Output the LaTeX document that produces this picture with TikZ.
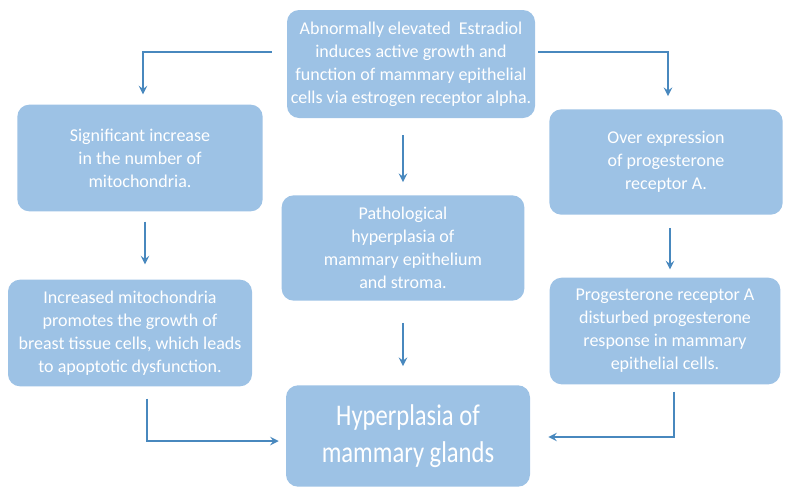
\documentclass[tikz,border=0pt]{standalone}
\usepackage{fontspec}
\setmainfont{Carlito}
\newfontfamily\narrowfont[FakeStretch=0.82]{Carlito}
\definecolor{boxblue}{RGB}{157,194,229}
\definecolor{arrowblue}{RGB}{72,136,190}
\tikzset{
  box/.style     = {shape=rectangle, rounded corners=9pt, fill=boxblue,
                    text=white, align=center, inner sep=0pt,
                    font=\fontsize{13.5}{17.2}\selectfont},
  mainbox/.style = {box, font=\narrowfont\fontsize{22.5}{28}\selectfont},
  flow/.style    = {draw=arrowblue, line width=1.8pt, -stealth}
}
\begin{document}
\begin{tikzpicture}[x=0.75pt, y=-0.75pt]
\useasboundingbox (0,0) rectangle (785,486);
% boxes
\node[box, minimum width=186pt, minimum height=81pt] (estradiol) at (411,64)
  {Abnormally elevated~ Estradiol\\ induces active growth and\\ function of mammary epithelial\\ cells via estrogen receptor alpha.};
\node[box, minimum width=184pt, minimum height=80pt] (mito) at (140,158)
  {Significant increase\\ in the number of\\ mitochondria.};
\node[box, minimum width=175pt, minimum height=79pt] (overexp) at (666,162)
  {Over expression\\ of progesterone\\ receptor A.};
\node[box, minimum width=182pt, minimum height=79pt] (patho) at (403,248)
  {Pathological\\ hyperplasia of\\ mammary epithelium\\ and stroma.};
\node[box, minimum width=183pt, minimum height=80pt] (growth) at (130,333)
  {Increased mitochondria\\ promotes the growth of\\ breast tissue cells, which leads\\ to apoptotic dysfunction.};
\node[box, minimum width=173pt, minimum height=80pt] (receptor) at (665,331)
  {Progesterone receptor A\\ disturbed progesterone\\ response in mammary\\ epithelial cells.};
\node[mainbox, minimum width=183pt, minimum height=76pt] (glands) at (408,436)
  {Hyperplasia of\\ mammary glands};
% arrows
\draw[flow] ([shift={(-15,-12)}]estradiol.west) -| ([shift={(3,-10)}]mito.north);
\draw[flow] ([shift={(3,-12)}]estradiol.east) -| ([shift={(2,-13)}]overexp.north);
\draw[flow] ([shift={(-8,17)}]estradiol.south) -- ([shift={(0,-13)}]patho.north);
\draw[flow] ([shift={(5,10)}]mito.south) -- ([shift={(15,-15)}]growth.north);
\draw[flow] ([shift={(4,13)}]overexp.south) -- ([shift={(5,-8)}]receptor.north);
\draw[flow] ([shift={(0,22)}]patho.south) -- ([shift={(-5,-19)}]glands.north);
\draw[flow] ([shift={(17,12)}]growth.south) |- ([shift={(-7,5)}]glands.west);
\draw[flow] ([shift={(9,7)}]receptor.south) |- ([shift={(18,1)}]glands.east);
\end{tikzpicture}
\end{document}
